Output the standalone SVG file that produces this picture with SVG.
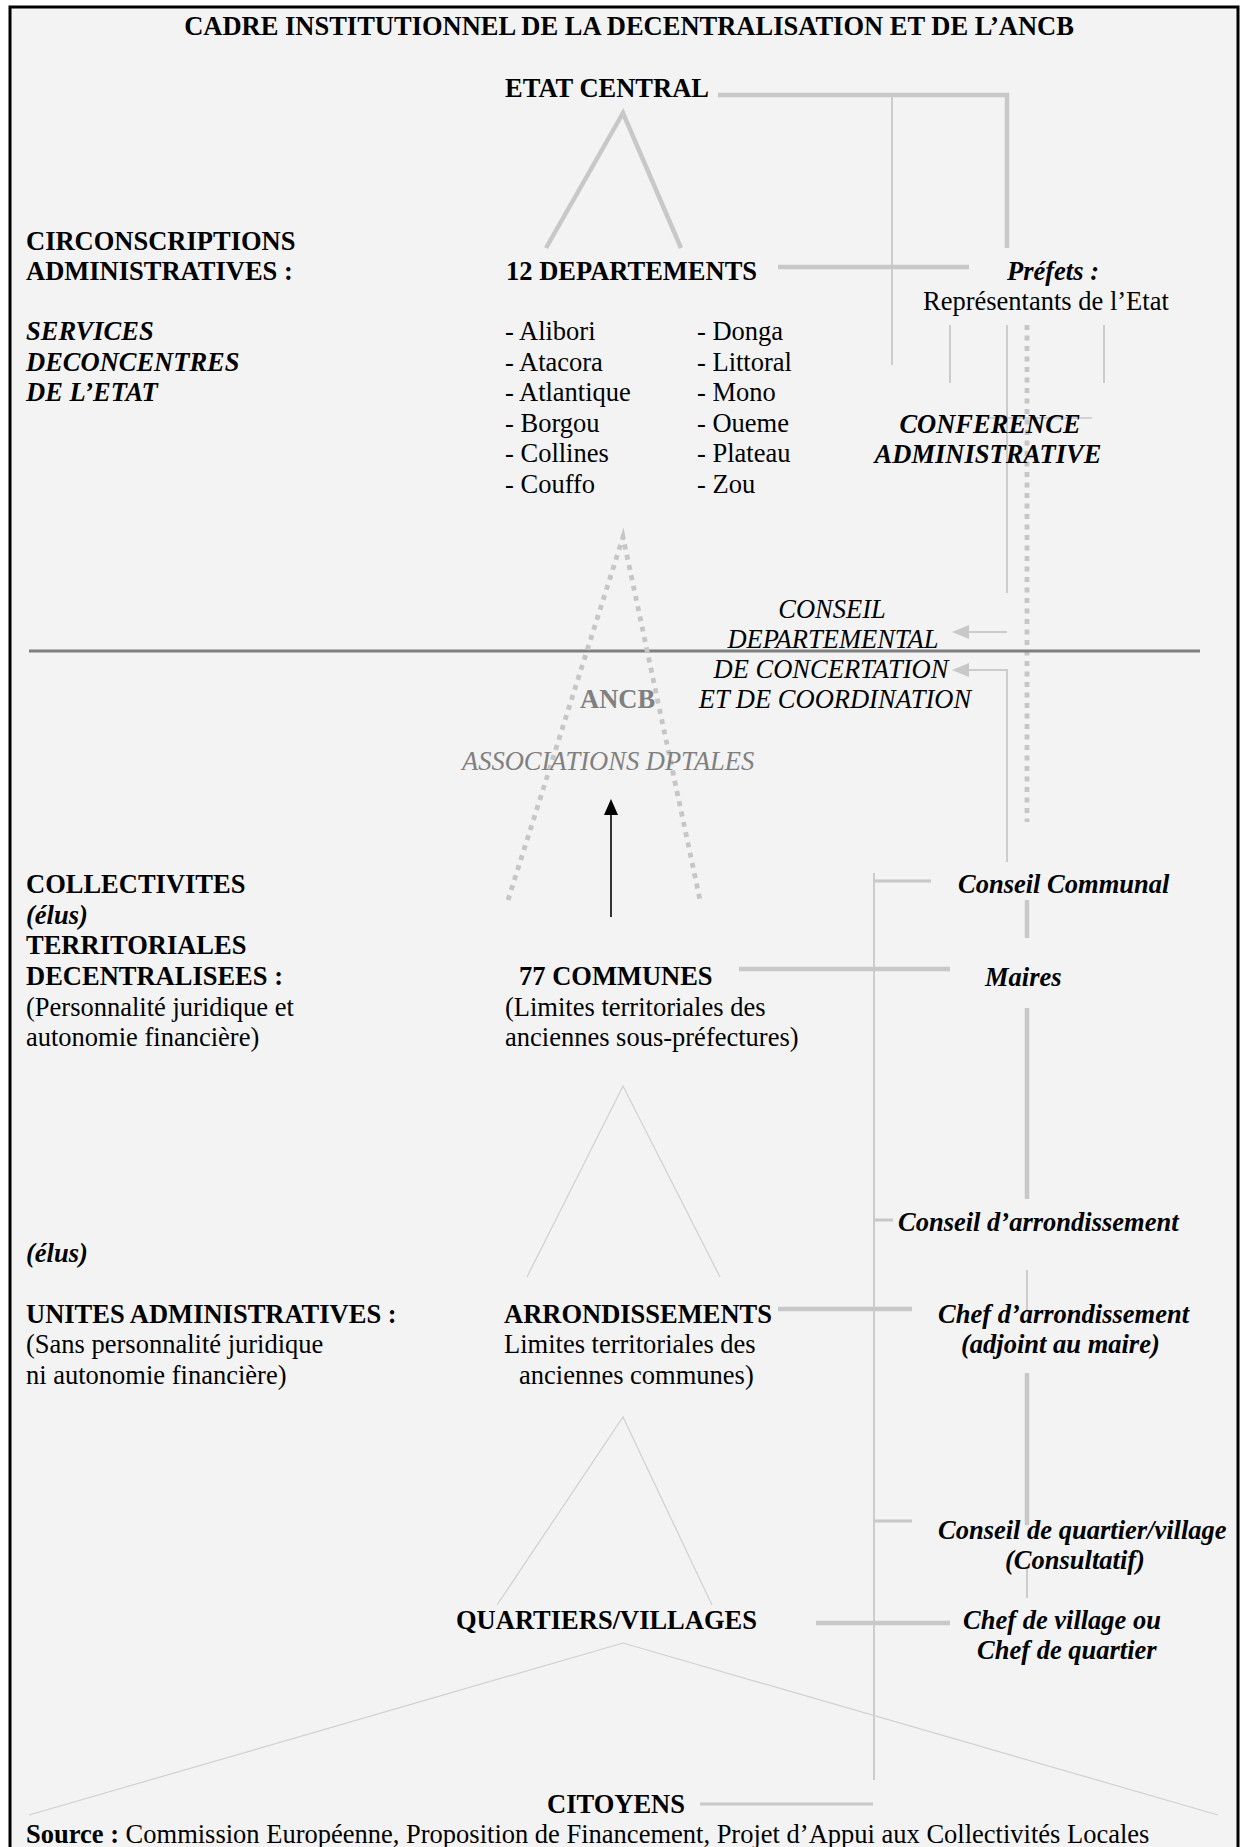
<svg xmlns="http://www.w3.org/2000/svg" width="1248" height="1847" viewBox="0 0 1248 1847">
<style>
text{font-family:"Liberation Serif","Times New Roman",serif;font-size:26.5px;fill:#000}
.b{font-weight:bold}
.i{font-style:italic}
.bi{font-weight:bold;font-style:italic}
.g{fill:#808080}
.m{text-anchor:middle}
.thick{stroke:#c8c8c8;stroke-width:4.5;fill:none}
.thin{stroke:#cccccc;stroke-width:2;fill:none}
.hair{stroke:#d0d0d0;stroke-width:1.2;fill:none}
.dot{stroke:#c6c6c6;stroke-width:4.8;stroke-dasharray:5 5.5;fill:none}
</style>
<defs>
<marker id="ag" markerWidth="18" markerHeight="16" refX="2" refY="8" orient="auto" markerUnits="userSpaceOnUse"><path d="M0,1 L17,8 L0,15 z" fill="#c8c8c8"/></marker>
<marker id="ab" markerWidth="18" markerHeight="16" refX="2" refY="7" orient="auto" markerUnits="userSpaceOnUse"><path d="M0,0 L16,7 L0,14 z" fill="#000"/></marker>
</defs>
<rect x="0" y="0" width="1248" height="1847" fill="#ffffff"/>
<rect x="10" y="7" width="1228" height="1860" fill="#f3f3f3" stroke="#000" stroke-width="3"/>

<g id="connectors">
<path class="thick" d="M718,95 H1007 V248"/>
<path class="thin" d="M892,97 V365"/>
<path class="thick" d="M546,248 L623,113 L681,248"/>
<path class="thick" d="M778,267 H969"/>
<path class="thin" d="M950,325 V383 M1104,325 V383"/>
<path class="thin" d="M1007,325 V593"/>
<path class="dot" d="M1027,325 V822"/>
<path stroke="#c8c8c8" stroke-width="1.5" d="M987,418 H1092"/>
<path class="thin" d="M1007,632 H967" marker-end="url(#ag)"/>
<path class="thin" d="M1007,862 V670 H967" marker-end="url(#ag)"/>
<path stroke="#7f7f7f" stroke-width="3" d="M29,651 H1200"/>
<path class="dot" d="M508,900 L623,537 L700,900"/>
<path stroke="#000" stroke-width="1.6" fill="none" d="M611,917 V813" marker-end="url(#ab)"/>
<path class="thin" d="M874,873 V1780"/>
<path stroke="#c8c8c8" stroke-width="3" d="M874,881 H931"/>
<path class="thick" stroke-width="5" d="M1027,900 V938"/>
<path class="thick" stroke-width="5" d="M739,969 H950"/>
<path class="thick" stroke-width="5" d="M1027,1008 V1199"/>
<path class="hair" d="M527,1277 L623,1086 L720,1277"/>
<path stroke="#c8c8c8" stroke-width="3" d="M874,1220 H893"/>
<path class="thin" d="M1027,1270 V1310"/>
<path class="thick" stroke-width="5" d="M778,1309 H912"/>
<path class="thick" stroke-width="5" d="M1027,1373 V1525"/>
<path stroke="#c8c8c8" stroke-width="3" d="M874,1521 H912"/>
<path class="thin" d="M1027,1568 V1598"/>
<path class="hair" d="M497,1605 L623,1417 L712,1605"/>
<path class="thick" stroke-width="5" d="M816,1623 H950"/>
<path class="hair" d="M29,1815 L623,1643 L1218,1815"/>
<path stroke="#c8c8c8" stroke-width="3" d="M700,1804 H873"/>
</g>

<g id="title"><text class="b m" x="629" y="35">CADRE INSTITUTIONNEL DE LA DECENTRALISATION ET DE L’ANCB</text></g>
<g id="etat-central"><text class="b" x="505" y="97">ETAT CENTRAL</text></g>
<g id="circonscriptions">
<text class="b" x="26" y="250">CIRCONSCRIPTIONS</text>
<text class="b" x="26" y="280">ADMINISTRATIVES :</text>
<text class="bi" x="26" y="340">SERVICES</text>
<text class="bi" x="26" y="371">DECONCENTRES</text>
<text class="bi" x="26" y="401">DE L’ETAT</text>
</g>
<g id="departements">
<text class="b" x="506" y="280">12 DEPARTEMENTS</text>
<text x="505" y="340">- Alibori</text>
<text x="505" y="371">- Atacora</text>
<text x="505" y="401">- Atlantique</text>
<text x="505" y="432">- Borgou</text>
<text x="505" y="462">- Collines</text>
<text x="505" y="493">- Couffo</text>
<text x="697" y="340">- Donga</text>
<text x="697" y="371">- Littoral</text>
<text x="697" y="401">- Mono</text>
<text x="697" y="432">- Oueme</text>
<text x="697" y="462">- Plateau</text>
<text x="697" y="493">- Zou</text>
</g>
<g id="prefets">
<text class="bi" x="1007" y="280">Préfets :</text>
<text x="923" y="310">Représentants de l’Etat</text>
</g>
<g id="conference">
<text class="bi m" x="990" y="433">CONFERENCE</text>
<text class="bi m" x="988" y="463">ADMINISTRATIVE</text>
</g>
<g id="conseil-departemental">
<text class="i m" x="832" y="618">CONSEIL</text>
<text class="i m" x="833" y="648">DEPARTEMENTAL</text>
<text class="i m" x="831" y="678">DE CONCERTATION</text>
<text class="i m" x="835" y="708">ET DE COORDINATION</text>
</g>
<g id="ancb">
<text class="b g" x="580" y="708">ANCB</text>
<text class="i g" x="462" y="770">ASSOCIATIONS DPTALES</text>
</g>
<g id="collectivites">
<text class="b" x="26" y="893">COLLECTIVITES</text>
<text class="bi" x="26" y="924">(élus)</text>
<text class="b" x="26" y="954">TERRITORIALES</text>
<text class="b" x="26" y="985">DECENTRALISEES :</text>
<text x="26" y="1016">(Personnalité juridique et</text>
<text x="26" y="1046">autonomie financière)</text>
</g>
<g id="communes">
<text class="b" x="519" y="985">77 COMMUNES</text>
<text x="505" y="1016">(Limites territoriales des</text>
<text x="505" y="1046">anciennes sous-préfectures)</text>
</g>
<g id="conseil-communal"><text class="bi" x="958" y="893">Conseil Communal</text></g>
<g id="maires"><text class="bi" x="985" y="986">Maires</text></g>
<g id="conseil-arrondissement"><text class="bi" x="898" y="1231">Conseil d’arrondissement</text></g>
<g id="unites">
<text class="bi" x="26" y="1262">(élus)</text>
<text class="b" x="26" y="1323">UNITES ADMINISTRATIVES :</text>
<text x="26" y="1353">(Sans personnalité juridique</text>
<text x="26" y="1384">ni autonomie financière)</text>
</g>
<g id="arrondissements">
<text class="b" x="504" y="1323">ARRONDISSEMENTS</text>
<text x="504" y="1353">Limites territoriales des</text>
<text x="519" y="1384">anciennes communes)</text>
</g>
<g id="chef-arrondissement">
<text class="bi" x="938" y="1323">Chef d’arrondissement</text>
<text class="bi" x="961" y="1353">(adjoint au maire)</text>
</g>
<g id="conseil-quartier">
<text class="bi" x="938" y="1539">Conseil de quartier/village</text>
<text class="bi" x="1005" y="1569">(Consultatif)</text>
</g>
<g id="quartiers"><text class="b" x="456" y="1629">QUARTIERS/VILLAGES</text></g>
<g id="chef-village">
<text class="bi" x="963" y="1629">Chef de village ou</text>
<text class="bi" x="977" y="1659">Chef de quartier</text>
</g>
<g id="citoyens"><text class="b" x="547" y="1813">CITOYENS</text></g>
<g id="source"><text x="26" y="1843"><tspan class="b">Source :</tspan> Commission Européenne, Proposition de Financement, Projet d’Appui aux Collectivités Locales</text></g>
</svg>
